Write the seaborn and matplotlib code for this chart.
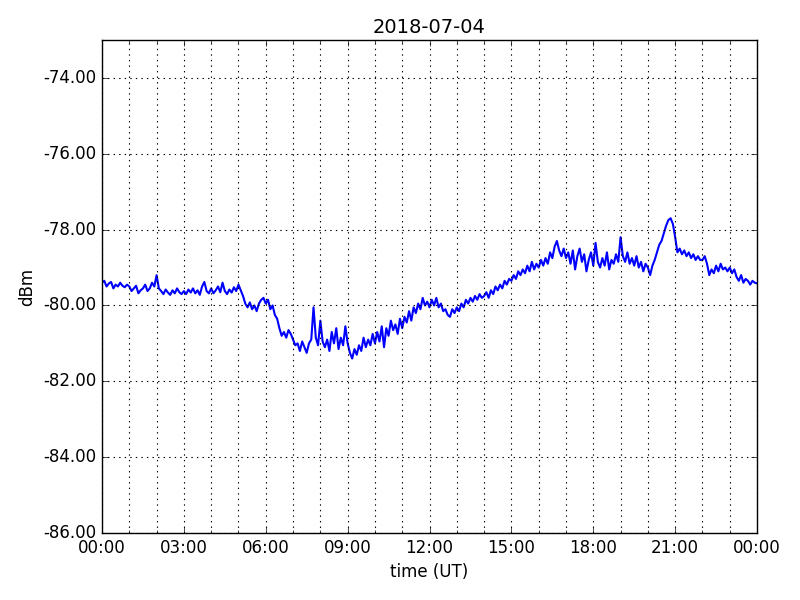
import numpy as np
import pandas as pd
import matplotlib
matplotlib.use("Agg")
from matplotlib import pyplot as plt
import matplotlib.dates as mdates
import matplotlib.ticker as mticker
import seaborn as sns

# signal level, 5 minute samples from 00:00 to 24:00
h00 = [-79.40, -79.35, -79.50, -79.42, -79.38, -79.55, -79.45, -79.50, -79.40, -79.48, -79.52, -79.45]
h01 = [-79.50, -79.62, -79.55, -79.48, -79.68, -79.60, -79.55, -79.45, -79.62, -79.55, -79.40, -79.50]
h02 = [-79.20, -79.55, -79.62, -79.70, -79.58, -79.66, -79.72, -79.60, -79.68, -79.55, -79.65, -79.70]
h03 = [-79.62, -79.70, -79.58, -79.66, -79.55, -79.68, -79.60, -79.72, -79.50, -79.38, -79.62, -79.68]
h04 = [-79.55, -79.68, -79.60, -79.50, -79.65, -79.40, -79.62, -79.70, -79.58, -79.66, -79.52, -79.62]
h05 = [-79.45, -79.60, -79.75, -79.95, -80.05, -79.92, -80.10, -80.00, -80.15, -79.95, -79.85, -79.80]
h06 = [-79.95, -79.85, -80.10, -80.00, -80.25, -80.35, -80.60, -80.80, -80.70, -80.85, -80.65, -80.75]
h07 = [-80.90, -81.05, -81.00, -81.20, -80.95, -81.10, -81.25, -81.00, -80.90, -80.05, -80.85, -81.05]
h08 = [-80.40, -80.95, -81.10, -80.90, -81.20, -80.70, -81.00, -80.60, -81.15, -80.85, -81.05, -80.55]
h09 = [-81.00, -81.25, -81.40, -81.15, -81.30, -81.05, -81.20, -80.85, -81.10, -80.90, -81.05, -80.75]
h10 = [-81.00, -80.70, -80.95, -80.55, -81.10, -80.60, -80.80, -80.40, -80.65, -80.50, -80.75, -80.35]
h11 = [-80.60, -80.30, -80.45, -80.15, -80.40, -80.05, -80.20, -79.95, -80.10, -79.80, -80.00, -79.90]
h12 = [-80.05, -79.85, -80.00, -79.80, -80.05, -79.95, -80.15, -80.10, -80.25, -80.30, -80.10, -80.20]
h13 = [-80.05, -80.15, -79.95, -80.05, -79.85, -79.95, -79.80, -79.90, -79.75, -79.85, -79.70, -79.80]
h14 = [-79.75, -79.65, -79.80, -79.60, -79.70, -79.50, -79.60, -79.45, -79.55, -79.35, -79.45, -79.30]
h15 = [-79.35, -79.20, -79.30, -79.10, -79.20, -79.05, -79.15, -78.95, -79.10, -78.85, -79.05, -78.90]
h16 = [-79.00, -78.80, -78.95, -78.75, -78.90, -78.60, -78.75, -78.45, -78.30, -78.55, -78.70, -78.50]
h17 = [-78.75, -78.60, -78.90, -78.55, -79.05, -78.70, -78.50, -78.85, -78.65, -79.10, -78.80, -78.60]
h18 = [-78.95, -78.35, -78.85, -79.00, -78.75, -78.95, -78.60, -79.05, -78.80, -78.90, -78.65, -78.85]
h19 = [-78.20, -78.70, -78.85, -78.60, -78.90, -78.75, -78.95, -78.70, -79.00, -78.85, -79.10, -78.90]
h20 = [-79.00, -79.20, -78.95, -78.80, -78.60, -78.40, -78.30, -78.10, -77.90, -77.75, -77.70, -77.85]
h21 = [-78.20, -78.60, -78.50, -78.65, -78.55, -78.70, -78.60, -78.75, -78.65, -78.80, -78.70, -78.80]
h22 = [-78.80, -78.70, -78.90, -79.20, -79.05, -79.15, -78.95, -79.10, -78.90, -79.05, -79.00, -79.10]
h23 = [-79.00, -79.15, -79.05, -79.25, -79.35, -79.20, -79.40, -79.30, -79.35, -79.45, -79.35, -79.40]
last = [-79.42]

hours = [h00, h01, h02, h03, h04, h05, h06, h07, h08, h09, h10, h11,
         h12, h13, h14, h15, h16, h17, h18, h19, h20, h21, h22, h23, last]
dbm = np.concatenate(hours)
times = pd.date_range("2018-07-04 00:00", periods=len(dbm), freq="5min")
df = pd.DataFrame({"time": times, "dBm": dbm})

plt.style.use("classic")
fig = plt.figure(figsize=(8, 6), dpi=100, facecolor="white")
ax = fig.add_axes([0.1275, 0.1117, 0.8188, 0.8216])

sns.lineplot(data=df, x="time", y="dBm", ax=ax, color="b", linewidth=1.5)

ax.set_xlim(pd.Timestamp("2018-07-04 00:00"), pd.Timestamp("2018-07-05 00:00"))
ax.set_ylim(-86, -73)
ax.xaxis.set_major_locator(mdates.HourLocator(byhour=range(0, 24, 3)))
ax.xaxis.set_minor_locator(mdates.HourLocator())
ax.xaxis.set_major_formatter(mdates.DateFormatter("%H:%M"))
ax.yaxis.set_major_locator(mticker.MultipleLocator(2))
ax.yaxis.set_major_formatter(mticker.FormatStrFormatter("%.2f"))
ax.grid(True, which="both", axis="x", color="k", linestyle=":", linewidth=0.8)
ax.grid(True, which="major", axis="y", color="k", linestyle=":", linewidth=0.8)

ax.set_title("2018-07-04", fontsize=14)
ax.set_xlabel("time (UT)", fontsize=12)
ax.set_ylabel("dBm", fontsize=12)
ax.tick_params(labelsize=12)

fig.savefig("out.png", dpi=100, facecolor="white")
